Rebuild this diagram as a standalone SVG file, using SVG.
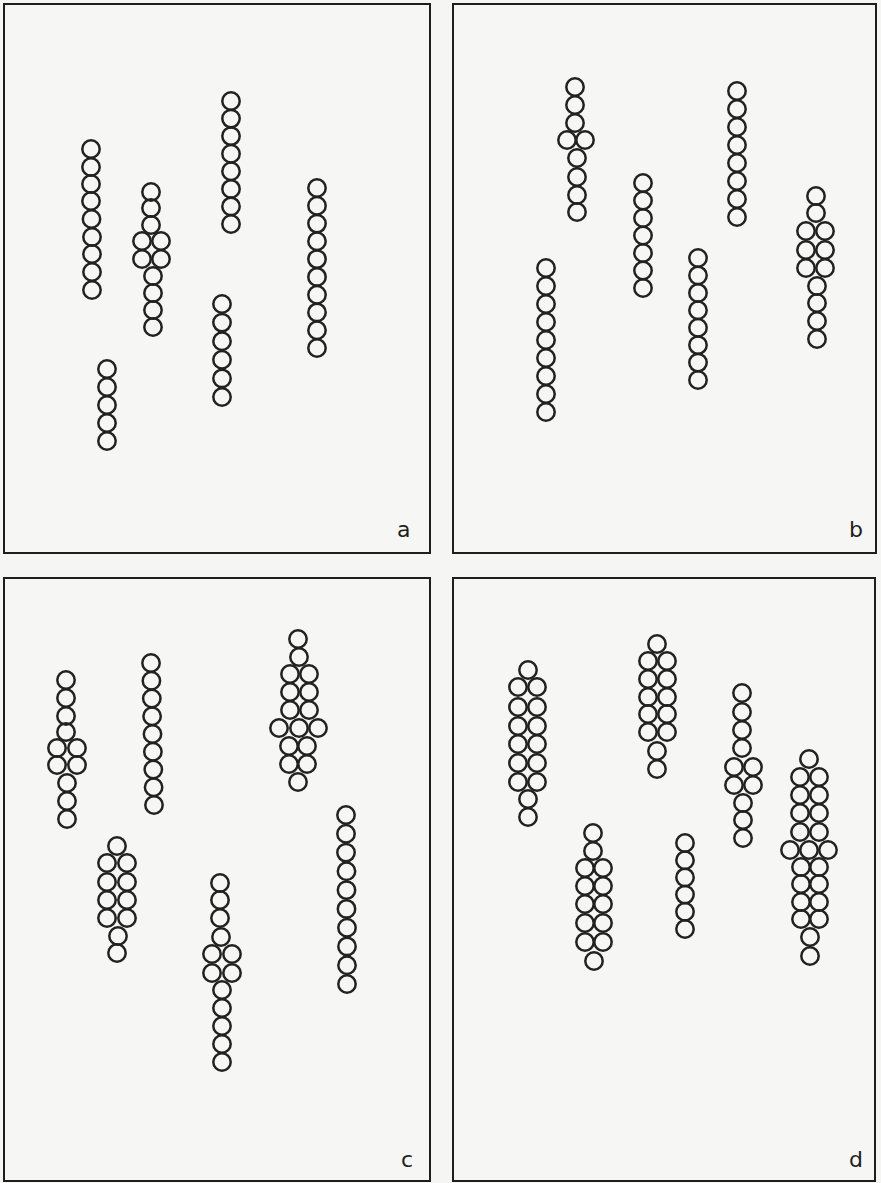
<svg xmlns="http://www.w3.org/2000/svg" width="881" height="1183" viewBox="0 0 881 1183">
<style>
.bg{fill:#f5f5f3}
.panel{fill:#f6f6f4;stroke:#1e1e1e;stroke-width:2}
.c{fill:none;stroke:#222;stroke-width:2.5}
.lbl{font-family:"DejaVu Sans",sans-serif;font-size:22px;fill:#1e1e1e}
</style>
<defs><circle id="o" r="8.7" class="c"/></defs>
<rect class="bg" x="0" y="0" width="881" height="1183"/>
<g id="panels">
<rect class="panel" x="4" y="4" width="426" height="549"/>
<rect class="panel" x="453" y="4" width="423" height="549"/>
<rect class="panel" x="4" y="578" width="426" height="603"/>
<rect class="panel" x="453" y="578" width="422" height="603"/>
</g>
<g id="labels">
<text class="lbl" x="397" y="537">a</text>
<text class="lbl" x="849" y="537">b</text>
<text class="lbl" x="401" y="1167">c</text>
<text class="lbl" x="849" y="1167">d</text>
</g>
<g id="panel-a">
<g id="a1"><use href="#o" x="91" y="149"/><use href="#o" x="91" y="167"/><use href="#o" x="91" y="184"/><use href="#o" x="91" y="201"/><use href="#o" x="91.5" y="219"/><use href="#o" x="92" y="237"/><use href="#o" x="92" y="254"/><use href="#o" x="92" y="272"/><use href="#o" x="92" y="290"/></g>
<g id="a2"><use href="#o" x="151" y="192"/><use href="#o" x="151" y="208"/><use href="#o" x="151" y="225"/><use href="#o" x="142" y="241"/><use href="#o" x="161" y="241"/><use href="#o" x="142" y="259"/><use href="#o" x="161" y="259"/><use href="#o" x="153" y="276"/><use href="#o" x="153" y="293"/><use href="#o" x="153" y="310"/><use href="#o" x="153" y="327"/></g>
<g id="a3"><use href="#o" x="231" y="101"/><use href="#o" x="231" y="118.6"/><use href="#o" x="231" y="136.1"/><use href="#o" x="231" y="153.7"/><use href="#o" x="231" y="171.3"/><use href="#o" x="231" y="188.9"/><use href="#o" x="231" y="206.4"/><use href="#o" x="231" y="224"/></g>
<g id="a4"><use href="#o" x="317" y="188"/><use href="#o" x="317" y="205.8"/><use href="#o" x="317" y="223.6"/><use href="#o" x="317" y="241.3"/><use href="#o" x="317" y="259.1"/><use href="#o" x="317" y="276.9"/><use href="#o" x="317" y="294.7"/><use href="#o" x="317" y="312.4"/><use href="#o" x="317" y="330.2"/><use href="#o" x="317" y="348"/></g>
<g id="a5"><use href="#o" x="222" y="304"/><use href="#o" x="222" y="322.6"/><use href="#o" x="222" y="341.2"/><use href="#o" x="222" y="359.8"/><use href="#o" x="222" y="378.4"/><use href="#o" x="222" y="397"/></g>
<g id="a6"><use href="#o" x="107" y="369"/><use href="#o" x="107" y="387"/><use href="#o" x="107" y="405"/><use href="#o" x="107" y="423"/><use href="#o" x="107" y="441"/></g>
</g>
<g id="panel-b">
<g id="b1"><use href="#o" x="575" y="87"/><use href="#o" x="575" y="105"/><use href="#o" x="575" y="123"/><use href="#o" x="567" y="140"/><use href="#o" x="585" y="140"/><use href="#o" x="577" y="158"/><use href="#o" x="577" y="177"/><use href="#o" x="577" y="195"/><use href="#o" x="577" y="212"/></g>
<g id="b2"><use href="#o" x="643" y="183"/><use href="#o" x="643" y="200.5"/><use href="#o" x="643" y="218"/><use href="#o" x="643" y="235.5"/><use href="#o" x="643" y="253"/><use href="#o" x="643" y="270.5"/><use href="#o" x="643" y="288"/></g>
<g id="b3"><use href="#o" x="546" y="268"/><use href="#o" x="546" y="286"/><use href="#o" x="546" y="304"/><use href="#o" x="546" y="322"/><use href="#o" x="546" y="340"/><use href="#o" x="546" y="358"/><use href="#o" x="546" y="376"/><use href="#o" x="546" y="394"/><use href="#o" x="546" y="412"/></g>
<g id="b4"><use href="#o" x="698" y="258"/><use href="#o" x="698" y="275.4"/><use href="#o" x="698" y="292.9"/><use href="#o" x="698" y="310.3"/><use href="#o" x="698" y="327.7"/><use href="#o" x="698" y="345.1"/><use href="#o" x="698" y="362.6"/><use href="#o" x="698" y="380"/></g>
<g id="b5"><use href="#o" x="737" y="91"/><use href="#o" x="737" y="109"/><use href="#o" x="737" y="127"/><use href="#o" x="737" y="145"/><use href="#o" x="737" y="163"/><use href="#o" x="737" y="181"/><use href="#o" x="737" y="199"/><use href="#o" x="737" y="217"/></g>
<g id="b6"><use href="#o" x="816" y="196"/><use href="#o" x="816" y="213"/><use href="#o" x="806" y="231"/><use href="#o" x="825" y="231"/><use href="#o" x="806" y="250"/><use href="#o" x="825" y="250"/><use href="#o" x="806" y="268"/><use href="#o" x="825" y="268"/><use href="#o" x="817" y="286"/><use href="#o" x="817" y="303"/><use href="#o" x="817" y="321"/><use href="#o" x="817" y="339"/></g>
</g>
<g id="panel-c">
<g id="c1"><use href="#o" x="66" y="680"/><use href="#o" x="66" y="698"/><use href="#o" x="66" y="716"/><use href="#o" x="66" y="732"/><use href="#o" x="57" y="748"/><use href="#o" x="77" y="748"/><use href="#o" x="57" y="765"/><use href="#o" x="77" y="765"/><use href="#o" x="67" y="783"/><use href="#o" x="67" y="801"/><use href="#o" x="67" y="819"/></g>
<g id="c2"><use href="#o" x="151" y="663"/><use href="#o" x="151.4" y="680.8"/><use href="#o" x="151.8" y="698.5"/><use href="#o" x="152.1" y="716.3"/><use href="#o" x="152.5" y="734"/><use href="#o" x="152.9" y="751.8"/><use href="#o" x="153.3" y="769.5"/><use href="#o" x="153.6" y="787.3"/><use href="#o" x="154" y="805"/></g>
<g id="c3"><use href="#o" x="298" y="639"/><use href="#o" x="299" y="657"/><use href="#o" x="290" y="674"/><use href="#o" x="309" y="674"/><use href="#o" x="290" y="692"/><use href="#o" x="309" y="692"/><use href="#o" x="290" y="710"/><use href="#o" x="309" y="710"/><use href="#o" x="279" y="728"/><use href="#o" x="299" y="728"/><use href="#o" x="318" y="728"/><use href="#o" x="289" y="746"/><use href="#o" x="307" y="746"/><use href="#o" x="289" y="764"/><use href="#o" x="307" y="764"/><use href="#o" x="298" y="782"/></g>
<g id="c4"><use href="#o" x="117" y="846"/><use href="#o" x="107" y="863"/><use href="#o" x="127" y="863"/><use href="#o" x="107" y="882"/><use href="#o" x="127" y="882"/><use href="#o" x="107" y="900"/><use href="#o" x="127" y="900"/><use href="#o" x="107" y="918"/><use href="#o" x="127" y="918"/><use href="#o" x="118" y="936"/><use href="#o" x="117" y="953"/></g>
<g id="c5"><use href="#o" x="220" y="883"/><use href="#o" x="220" y="900"/><use href="#o" x="220" y="918"/><use href="#o" x="221" y="937"/><use href="#o" x="212" y="954"/><use href="#o" x="232" y="954"/><use href="#o" x="212" y="973"/><use href="#o" x="232" y="973"/><use href="#o" x="222" y="990"/><use href="#o" x="222" y="1008"/><use href="#o" x="222" y="1026"/><use href="#o" x="222" y="1044"/><use href="#o" x="222" y="1062"/></g>
<g id="c6"><use href="#o" x="346" y="815"/><use href="#o" x="346" y="833.8"/><use href="#o" x="346" y="852.6"/><use href="#o" x="346.5" y="871.3"/><use href="#o" x="346.5" y="890.1"/><use href="#o" x="346.5" y="908.9"/><use href="#o" x="347" y="927.7"/><use href="#o" x="347" y="946.4"/><use href="#o" x="347" y="965.2"/><use href="#o" x="347" y="984"/></g>
</g>
<g id="panel-d">
<g id="d1"><use href="#o" x="528" y="670"/><use href="#o" x="518" y="687"/><use href="#o" x="537" y="687"/><use href="#o" x="518" y="707"/><use href="#o" x="537" y="707"/><use href="#o" x="518" y="726"/><use href="#o" x="537" y="726"/><use href="#o" x="518" y="744"/><use href="#o" x="537" y="744"/><use href="#o" x="518" y="763"/><use href="#o" x="537" y="763"/><use href="#o" x="518" y="782"/><use href="#o" x="537" y="782"/><use href="#o" x="528" y="799"/><use href="#o" x="528" y="817"/></g>
<g id="d2"><use href="#o" x="657" y="644"/><use href="#o" x="648" y="661"/><use href="#o" x="667" y="661"/><use href="#o" x="648" y="679"/><use href="#o" x="667" y="679"/><use href="#o" x="648" y="697"/><use href="#o" x="667" y="697"/><use href="#o" x="648" y="714"/><use href="#o" x="667" y="714"/><use href="#o" x="648" y="732"/><use href="#o" x="667" y="732"/><use href="#o" x="657" y="751"/><use href="#o" x="657" y="769"/></g>
<g id="d3"><use href="#o" x="742" y="693"/><use href="#o" x="742" y="712"/><use href="#o" x="742" y="730"/><use href="#o" x="742" y="748"/><use href="#o" x="734" y="767"/><use href="#o" x="753" y="767"/><use href="#o" x="734" y="785"/><use href="#o" x="753" y="785"/><use href="#o" x="743" y="803"/><use href="#o" x="743" y="820"/><use href="#o" x="743" y="838"/></g>
<g id="d4"><use href="#o" x="809" y="759"/><use href="#o" x="800" y="777"/><use href="#o" x="819" y="777"/><use href="#o" x="800" y="795"/><use href="#o" x="819" y="795"/><use href="#o" x="800" y="813"/><use href="#o" x="819" y="813"/><use href="#o" x="800" y="832"/><use href="#o" x="819" y="832"/><use href="#o" x="790" y="850"/><use href="#o" x="809" y="850"/><use href="#o" x="828" y="850"/><use href="#o" x="801" y="867"/><use href="#o" x="819" y="867"/><use href="#o" x="801" y="884"/><use href="#o" x="819" y="884"/><use href="#o" x="801" y="902"/><use href="#o" x="819" y="902"/><use href="#o" x="801" y="919"/><use href="#o" x="819" y="919"/><use href="#o" x="810" y="937"/><use href="#o" x="810" y="956"/></g>
<g id="d5"><use href="#o" x="593" y="833"/><use href="#o" x="593" y="851"/><use href="#o" x="585" y="868"/><use href="#o" x="603" y="868"/><use href="#o" x="585" y="886"/><use href="#o" x="603" y="886"/><use href="#o" x="585" y="904"/><use href="#o" x="603" y="904"/><use href="#o" x="585" y="923"/><use href="#o" x="603" y="923"/><use href="#o" x="585" y="942"/><use href="#o" x="603" y="942"/><use href="#o" x="594" y="961"/></g>
<g id="d6"><use href="#o" x="685" y="843"/><use href="#o" x="685" y="860.2"/><use href="#o" x="685" y="877.4"/><use href="#o" x="685" y="894.6"/><use href="#o" x="685" y="911.8"/><use href="#o" x="685" y="929"/></g>
</g>
</svg>
